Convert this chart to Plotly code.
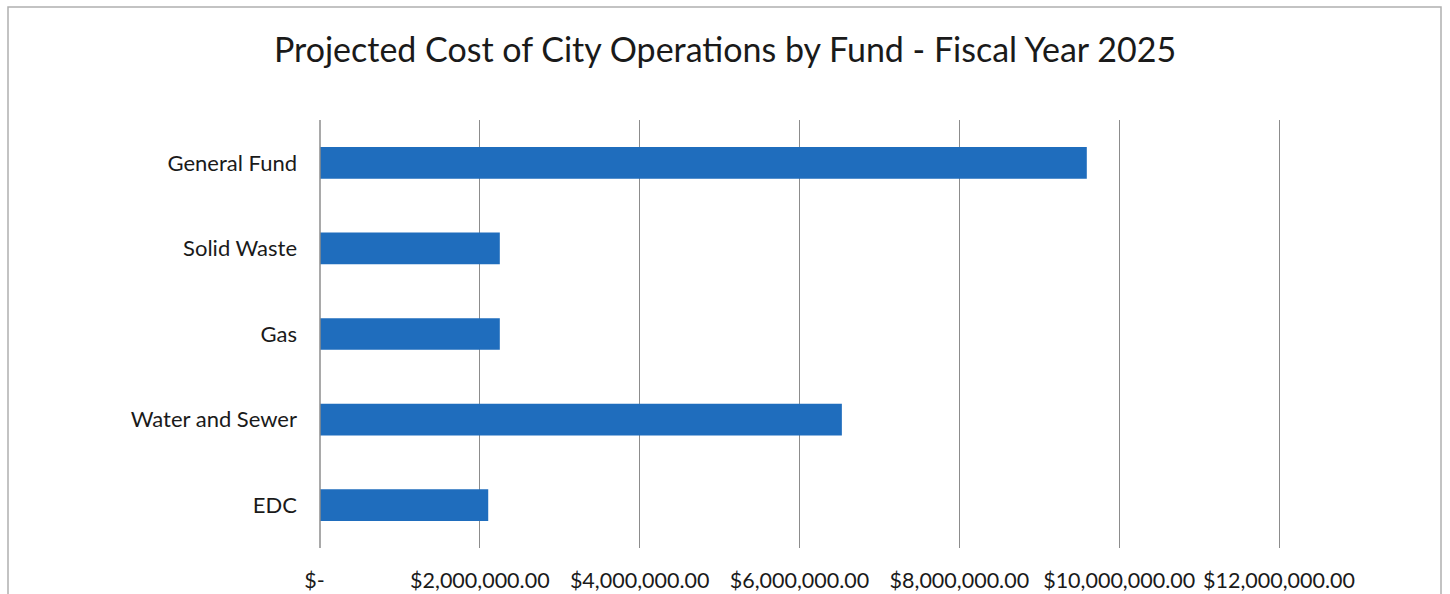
import plotly.graph_objects as go

funds = ["General Fund", "Solid Waste", "Gas", "Water and Sewer", "EDC"]
costs = [9595000, 2250000, 2250000, 6530000, 2105000]
tick_vals = [0, 2000000, 4000000, 6000000, 8000000, 10000000, 12000000]
tick_text = ["$-  ", "$2,000,000.00", "$4,000,000.00", "$6,000,000.00",
             "$8,000,000.00", "$10,000,000.00", "$12,000,000.00"]
title_text = "Projected Cost of City Operations by Fund - Fiscal Year 2025"

font_family = "Lato, 'Open Sans', sans-serif"

fig = go.Figure(go.Bar(
    x=costs, y=funds, orientation="h",
    marker=dict(color="#1f6dbd", line=dict(width=0)),
    width=0.37,
))

fig.update_layout(
    width=1450, height=594,
    margin=dict(l=320, r=167, t=120, b=46),
    paper_bgcolor="white", plot_bgcolor="white",
    showlegend=False,
    title=dict(text=title_text, x=0.5, xanchor="center", y=1 - 50/594, yanchor="middle",
               font=dict(family=font_family, size=34, color="#1a1a1a")),
    font=dict(family=font_family, color="#1a1a1a"),
    xaxis=dict(range=[0, 12050000], tickvals=tick_vals, ticktext=tick_text,
               showgrid=True, gridcolor="#8c8c8c", gridwidth=1,
               zeroline=False, showline=False, ticks="", automargin=False,
               tickfont=dict(size=21.5, color="#1a1a1a"), ticklabelstandoff=17,
               fixedrange=True),
    yaxis=dict(categoryorder="array", categoryarray=funds, autorange="reversed",
               showgrid=False, zeroline=False, showline=False, ticks="", automargin=False,
               tickfont=dict(size=22, color="#1a1a1a"), ticklabelstandoff=22,
               fixedrange=True),
    shapes=[
        dict(type="line", xref="paper", yref="paper", x0=0, x1=0, y0=0, y1=1,
             line=dict(color="#8c8c8c", width=1.5)),
        dict(type="rect", xref="paper", yref="paper",
             x0=-312/963, x1=(1441-320)/963, y0=-1, y1=1 + 113/428,
             line=dict(color="#b0b0b0", width=1.5), fillcolor="rgba(0,0,0,0)", layer="below"),
    ],
)

fig.write_html("out.html")
